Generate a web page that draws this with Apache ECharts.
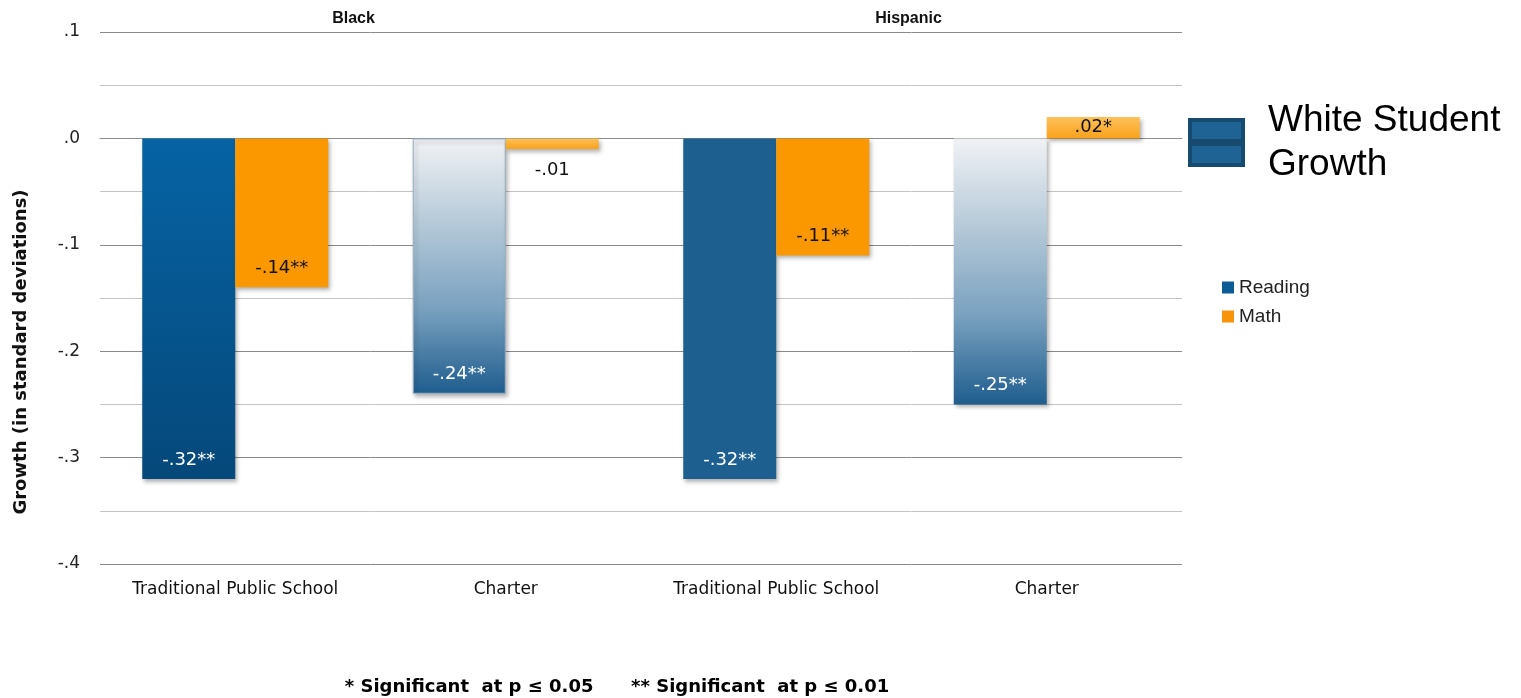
<!DOCTYPE html>
<html>
<head>
<meta charset="utf-8">
<script src="https://cdn.jsdelivr.net/npm/echarts@6/dist/echarts.min.js"></script>
<style>
  html, body { margin: 0; padding: 0; background: #ffffff; }
  #chart { width: 1521px; height: 698px; }
</style>
</head>
<body>
<div id="chart"></div>
<script>
// School types along the x axis, grouped by student group
const categories = ['Traditional Public School', 'Charter', 'Traditional Public School', 'Charter'];
const groups = ['Black', 'Hispanic'];

// Growth relative to White students (standard deviations)
const readingValues = [-0.32, -0.24, -0.32, -0.25];
const mathValues = [-0.14, -0.01, -0.11, 0.02];

// Value labels with significance stars
const readingLabels = ['-.32**', '-.24**', '-.32**', '-.25**'];
const mathLabels = ['-.14**', '-.01', '-.11**', '.02*'];

// Y axis tick labels
const yTickLabels = { '-0.4': '-.4', '-0.3': '-.3', '-0.2': '-.2', '-0.1': '-.1', '0': '.0', '0.1': '.1' };

const footnote = '* Significant  at p \u2264 0.05      ** Significant  at p \u2264 0.01';

const grad = (stops) => new echarts.graphic.LinearGradient(0, 0, 0, 1,
  stops.map((c, i) => ({ offset: i / (stops.length - 1), color: c })));

const readingStyles = [
  { color: grad(['#0663a4', '#05487a']) },
  { color: grad(['#f1f2f5', '#b5c9d8', '#79a1bf', '#1f5d8e']), borderColor: '#98aec2', borderWidth: 1 },
  { color: '#1d5f8f' },
  { color: grad(['#f1f2f5', '#b5c9d8', '#79a1bf', '#1f5d8e']) }
];
const mathStyles = [
  { color: '#fb9800' },
  { color: grad(['#ffc05a', '#f8a21c']) },
  { color: '#fb9800' },
  { color: grad(['#ffc05a', '#f8a21c']) }
];
const mathLabelPos = [
  { position: 'insideBottom', distance: 10 },
  { position: 'bottom', distance: 12 },
  { position: 'insideBottom', distance: 10 },
  { position: 'inside', distance: 0 }
];

const shadow = { shadowBlur: 4, shadowOffsetX: 2, shadowOffsetY: 3, shadowColor: 'rgba(0,0,0,0.3)' };

const chart = echarts.init(document.getElementById('chart'), null, { renderer: 'canvas' });

chart.setOption({
  backgroundColor: '#ffffff',
  animation: false,
  grid: { left: 100, right: 339, top: 32, bottom: 134, containLabel: false },
  legend: {
    data: ['Reading', 'Math'],
    orient: 'vertical',
    left: 1217,
    top: 273,
    itemWidth: 12,
    itemHeight: 12,
    itemGap: 10,
    icon: 'rect',
    textStyle: { fontFamily: 'Liberation Sans', fontSize: 19, color: '#222' }
  },
  xAxis: [
    {
      type: 'category',
      data: categories,
      position: 'bottom',
      axisLine: { show: true, lineStyle: { color: '#8c8c8c' } },
      axisTick: { show: false },
      axisLabel: { interval: 0, margin: 17, fontFamily: 'DejaVu Sans', fontSize: 17, color: '#111' }
    },
    {
      type: 'category',
      data: groups,
      position: 'top',
      axisLine: { show: false },
      axisTick: { show: false },
      axisLabel: {
        interval: 0,
        margin: 5,
        formatter: (v, i) => (i === 0 ? '{a|' : '{b|') + v + '}',
        rich: {
          a: { fontFamily: 'Liberation Sans', fontWeight: 'bold', fontSize: 16, color: '#111', padding: [0, 34, 0, 0] },
          b: { fontFamily: 'Liberation Sans', fontWeight: 'bold', fontSize: 16, color: '#111', padding: [0, 6, 0, 0] }
        }
      }
    }
  ],
  yAxis: {
    type: 'value',
    min: -0.4,
    max: 0.1,
    interval: 0.1,
    axisLine: { show: false },
    axisTick: { show: false },
    axisLabel: {
      margin: 20,
      fontFamily: 'DejaVu Sans',
      fontSize: 17,
      color: '#222',
      formatter: (v) => yTickLabels[String(Math.round(v * 10) / 10)] ?? ''
    },
    splitLine: { show: true, lineStyle: { color: '#8a8a8a', width: 1 } },
    minorTick: { show: false, splitNumber: 2 },
    minorSplitLine: { show: true, lineStyle: { color: '#c4c4c4', width: 1 } }
  },
  series: [
    {
      name: 'Reading',
      type: 'bar',
      xAxisIndex: 0,
      barWidth: 93,
      barGap: '0%',
      itemStyle: Object.assign({ color: '#0a5b96' }, shadow),
      data: readingValues.map((v, i) => ({
        value: v,
        itemStyle: readingStyles[i],
        label: { formatter: readingLabels[i] }
      })),
      label: {
        show: true,
        position: 'insideBottom',
        distance: 10,
        fontFamily: 'DejaVu Sans',
        fontSize: 18,
        color: '#ffffff'
      }
    },
    {
      name: 'Math',
      type: 'bar',
      xAxisIndex: 0,
      barWidth: 93,
      barGap: '0%',
      itemStyle: Object.assign({ color: '#f7940a' }, shadow),
      data: mathValues.map((v, i) => ({
        value: v,
        itemStyle: mathStyles[i],
        label: Object.assign({ formatter: mathLabels[i] }, mathLabelPos[i])
      })),
      label: {
        show: true,
        fontFamily: 'DejaVu Sans',
        fontSize: 18,
        color: '#111'
      }
    }
  ],
  graphic: [
    {
      type: 'text',
      x: 21,
      y: 352,
      rotation: Math.PI / 2,
      style: {
        text: 'Growth (in standard deviations)',
        fontFamily: 'DejaVu Sans',
        fontWeight: 'bold',
        fontSize: 18,
        fill: '#111',
        align: 'center',
        verticalAlign: 'middle'
      }
    },
    {
      type: 'group',
      x: 1190,
      y: 120,
      children: [
        { type: 'rect', shape: { x: 0, y: 0, width: 53, height: 21 }, style: { fill: '#1f6294', stroke: '#174a6f', lineWidth: 4 } },
        { type: 'rect', shape: { x: 0, y: 24, width: 53, height: 21 }, style: { fill: '#1f6294', stroke: '#174a6f', lineWidth: 4 } }
      ]
    },
    {
      type: 'text',
      x: 1268,
      y: 99,
      style: {
        text: 'White Student\nGrowth',
        fontFamily: 'Liberation Sans',
        fontSize: 37,
        lineHeight: 44,
        fill: '#000'
      }
    },
    {
      type: 'text',
      x: 617,
      y: 687,
      style: {
        text: footnote,
        fontFamily: 'DejaVu Sans',
        fontWeight: 'bold',
        fontSize: 18,
        fill: '#000',
        align: 'center',
        verticalAlign: 'middle'
      }
    }
  ]
});
</script>
</body>
</html>
